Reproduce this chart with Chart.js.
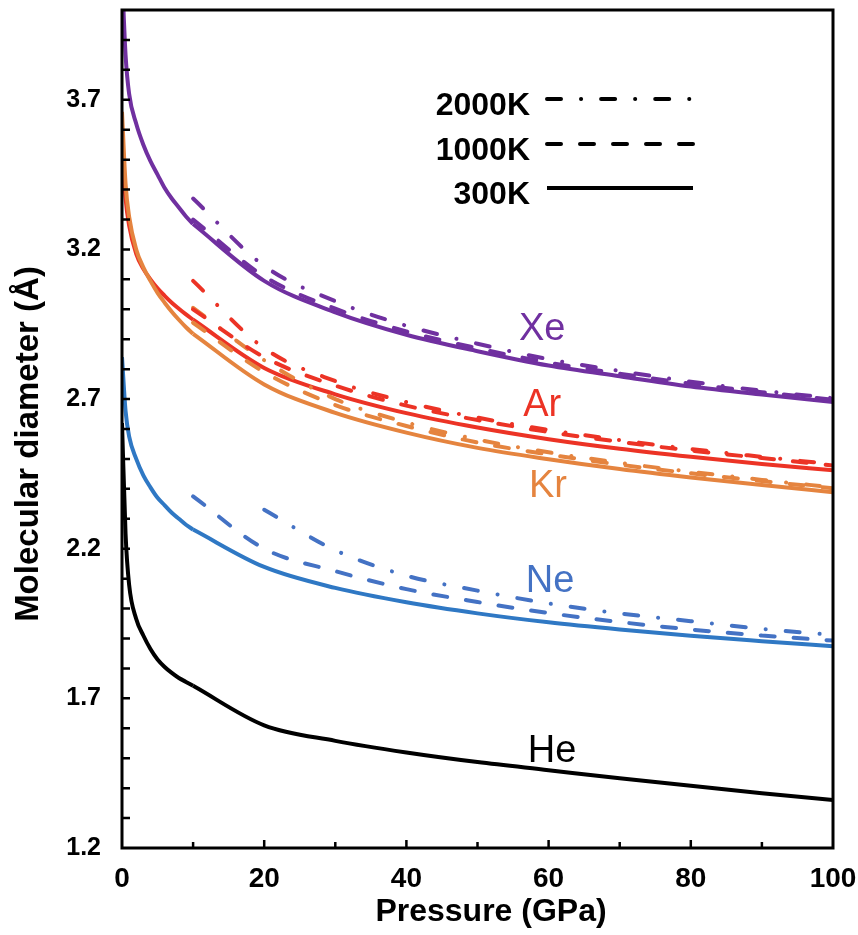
<!DOCTYPE html>
<html>
<head>
<meta charset="utf-8">
<script src="https://cdn.jsdelivr.net/npm/chart.js@4.4.1/dist/chart.umd.min.js"></script>
<style>
  html, body { margin: 0; padding: 0; background: #fff; }
  #wrap { width: 858px; height: 935px; position: relative; }
</style>
</head>
<body>
<div id="wrap"><canvas id="chart-diameter"></canvas></div>
<script>
// Molecular diameter of noble gases vs pressure, 300K / 1000K / 2000K

// pressures (GPa)
const pLow = [0, 0.5, 1, 2, 3, 4, 5, 6, 7, 8, 9, 10, 20, 30, 40, 50, 60, 70, 80, 90, 100];
const pHot = [10, 20, 30, 40, 50, 60, 70, 80, 90, 100];
const pNeHot = [20, 30, 40, 50, 60, 70, 80, 90, 100];

// 300K (solid)
const xe300 = [4.12, 3.85, 3.72, 3.62, 3.55, 3.495, 3.45, 3.405, 3.37, 3.34, 3.31, 3.285, 3.095, 2.99, 2.915, 2.86, 2.812, 2.776, 2.742, 2.715, 2.69];
const ar300 = [3.54, 3.37, 3.28, 3.185, 3.135, 3.10, 3.07, 3.045, 3.022, 3.002, 2.983, 2.965, 2.804, 2.716, 2.653, 2.605, 2.566, 2.534, 2.507, 2.483, 2.462];
const kr300 = [3.66, 3.42, 3.31, 3.20, 3.14, 3.095, 3.055, 3.022, 2.992, 2.965, 2.94, 2.918, 2.749, 2.654, 2.588, 2.537, 2.499, 2.466, 2.438, 2.413, 2.389];
const ne300 = [2.84, 2.66, 2.575, 2.5, 2.445, 2.405, 2.37, 2.345, 2.32, 2.3, 2.28, 2.264, 2.139, 2.069, 2.021, 1.984, 1.954, 1.93, 1.909, 1.891, 1.874];
const he300 = [2.62, 2.25, 2.08, 1.965, 1.91, 1.865, 1.83, 1.805, 1.785, 1.768, 1.755, 1.742, 1.61, 1.558, 1.519, 1.487, 1.46, 1.433, 1.408, 1.383, 1.36];

// 1000K (dashed)
const xe1000 = [3.30, 3.11, 3.002, 2.926, 2.87, 2.822, 2.785, 2.751, 2.723, 2.698];
const ar1000 = [3.00, 2.84, 2.745, 2.678, 2.63, 2.59, 2.557, 2.528, 2.503, 2.478];
const kr1000 = [2.955, 2.79, 2.68, 2.61, 2.555, 2.515, 2.481, 2.452, 2.426, 2.402];
const ne1000 = [2.375, 2.20, 2.125, 2.065, 2.022, 1.985, 1.955, 1.93, 1.91, 1.893];

// 2000K (dash-dot)
const xe2000 = [3.37, 3.145, 3.027, 2.945, 2.885, 2.833, 2.794, 2.758, 2.728, 2.703];
const ar2000 = [3.095, 2.87, 2.76, 2.69, 2.638, 2.597, 2.563, 2.533, 2.507, 2.482];
const kr2000 = [3.005, 2.83, 2.70, 2.622, 2.565, 2.522, 2.487, 2.457, 2.43, 2.405];
const ne2000 = [2.33, 2.195, 2.11, 2.06, 2.017, 1.984, 1.958, 1.932, 1.912];

// axis ticks
const xTickLabels = [0, 20, 40, 60, 80, 100];
const yTickLabels = [1.2, 1.7, 2.2, 2.7, 3.2, 3.7];

// gas labels
const gasNames = ['Xe', 'Ar', 'Kr', 'Ne', 'He'];
const gasLabelP = [59.1, 59.1, 59.9, 60.2, 60.5];
const gasLabelD = [2.934, 2.68, 2.408, 2.09, 1.521];

const colors = {
    Xe: '#7030A0',
    Ar: '#EC3325',
    Kr: '#E5843F',
    Ne: '#2F78C4',
    NeHot: '#4472C4',
    He: '#000000'
};
const labelColors = ['#7030A0', '#EC3325', '#E5843F', '#4472C4', '#000000'];

const DASH = [14, 19];
const DASH_DOT = [14, 20, 0.1, 20];
const SPLIT = 12; // solid curves are drawn as 0-10 GPa and 10-100 GPa pieces

const pts = (ps, ds) => ps.map((p, i) => ({ x: p, y: ds[i] }));

function line(data, color, dash) {
    return {
        data: data,
        borderColor: color,
        borderWidth: 4,
        borderDash: dash || [],
        borderCapStyle: dash ? 'round' : 'butt',
        borderJoinStyle: 'round',
        pointRadius: 0,
        cubicInterpolationMode: 'monotone',
        fill: false,
        clip: 0
    };
}

// solid 300K curve: kink at 10 GPa kept by splitting it in two
function solid(ds, color) {
    return [
        line(pts(pLow.slice(0, SPLIT), ds.slice(0, SPLIT)), color),
        line(pts(pLow.slice(SPLIT - 1), ds.slice(SPLIT - 1)), color)
    ];
}

const FONT = '"Liberation Sans", Arial, Helvetica, sans-serif';
Chart.defaults.font.family = FONT;

const overlay = {
    id: 'overlay',
    afterDraw(chart) {
        const ctx = chart.ctx;
        const a = chart.chartArea;
        const x = chart.scales.x;
        const y = chart.scales.y;
        ctx.save();

        // frame
        ctx.strokeStyle = '#000';
        ctx.lineWidth = 3;
        ctx.strokeRect(a.left, a.top, a.right - a.left, a.bottom - a.top);

        // inward tick marks
        ctx.lineWidth = 2.5;
        ctx.beginPath();
        for (let k = 1; k < 10; k++) {
            const px = x.getPixelForValue(k * 10);
            const len = k % 2 === 0 ? 8 : 6;
            ctx.moveTo(px, a.bottom);
            ctx.lineTo(px, a.bottom - len);
        }
        for (let k = 13; k <= 39; k++) {
            const py = y.getPixelForValue(k / 10);
            ctx.moveTo(a.left, py);
            ctx.lineTo(a.left + 8, py);
        }
        ctx.stroke();

        // gas labels
        ctx.font = '38px ' + FONT;
        ctx.textAlign = 'center';
        ctx.textBaseline = 'middle';
        gasNames.forEach((name, i) => {
            ctx.fillStyle = labelColors[i];
            ctx.fillText(name, x.getPixelForValue(gasLabelP[i]), y.getPixelForValue(gasLabelD[i]));
        });

        // legend
        const legend = [['2000K', DASH_DOT, 99], ['1000K', DASH, 144], ['300K', [], 188]];
        ctx.font = 'bold 32px ' + FONT;
        ctx.textAlign = 'right';
        ctx.textBaseline = 'alphabetic';
        ctx.fillStyle = '#000';
        ctx.strokeStyle = '#000';
        ctx.lineWidth = 4;
        legend.forEach(([text, dash, ly]) => {
            ctx.fillText(text, 530, ly + 16);
            ctx.setLineDash(dash);
            ctx.lineCap = dash.length ? 'round' : 'butt';
            ctx.beginPath();
            ctx.moveTo(547, ly);
            ctx.lineTo(693, ly);
            ctx.stroke();
        });
        ctx.setLineDash([]);

        // axis titles
        ctx.font = 'bold 32px ' + FONT;
        ctx.textAlign = 'center';
        ctx.textBaseline = 'middle';
        ctx.fillText('Pressure (GPa)', 491, 912);
        ctx.font = 'bold 33px ' + FONT;
        ctx.translate(29, (a.top + a.bottom) / 2 + 15);
        ctx.rotate(-Math.PI / 2);
        ctx.fillText('Molecular diameter (Å)', 0, 0);

        ctx.restore();
    }
};

document.addEventListener('DOMContentLoaded', () => {
    const ctx = document.getElementById('chart-diameter');
    new Chart(ctx, {
        type: 'line',
        data: {
            datasets: [
                line(pts(pHot, xe2000), colors.Xe, DASH_DOT),
                line(pts(pHot, xe1000), colors.Xe, DASH),
                line(pts(pHot, ar2000), colors.Ar, DASH_DOT),
                line(pts(pHot, ar1000), colors.Ar, DASH),
                line(pts(pHot, kr2000), colors.Kr, DASH_DOT),
                line(pts(pHot, kr1000), colors.Kr, DASH),
                line(pts(pNeHot, ne2000), colors.NeHot, DASH_DOT),
                line(pts(pHot, ne1000), colors.NeHot, DASH),
                ...solid(kr300, colors.Kr),
                ...solid(ar300, colors.Ar),
                ...solid(xe300, colors.Xe),
                ...solid(ne300, colors.Ne),
                ...solid(he300, colors.He)
            ]
        },
        options: {
            responsive: true,
            maintainAspectRatio: false,
            animation: false,
            layout: {
                padding: { top: 10, right: 25, left: 0, bottom: 0 }
            },
            plugins: {
                legend: { display: false },
                tooltip: { enabled: false }
            },
            scales: {
                x: {
                    type: 'linear',
                    min: 0,
                    max: 100,
                    afterBuildTicks: (s) => { s.ticks = xTickLabels.map(v => ({ value: v })); },
                    afterFit: (s) => {
                        s.height = 87;
                        s.paddingLeft = 0; s.paddingRight = 0;
                    },
                    grid: { display: false, drawTicks: false },
                    border: { display: false },
                    ticks: {
                        color: '#000',
                        padding: 14,
                        maxRotation: 0,
                        autoSkip: false,
                        font: { size: 28, weight: 'bold' }
                    }
                },
                y: {
                    type: 'linear',
                    min: 1.2,
                    max: 4.0,
                    afterBuildTicks: (s) => { s.ticks = yTickLabels.map(v => ({ value: v })); },
                    afterFit: (s) => {
                        s.width = 122;
                        s.paddingTop = 0; s.paddingBottom = 0;
                    },
                    grid: { display: false, drawTicks: false },
                    border: { display: false },
                    ticks: {
                        color: '#000',
                        padding: 21,
                        autoSkip: false,
                        font: { size: 25, weight: 'bold' },
                        callback: (v) => v.toFixed(1)
                    }
                }
            }
        },
        plugins: [overlay]
    });
});
</script>
</body>
</html>
